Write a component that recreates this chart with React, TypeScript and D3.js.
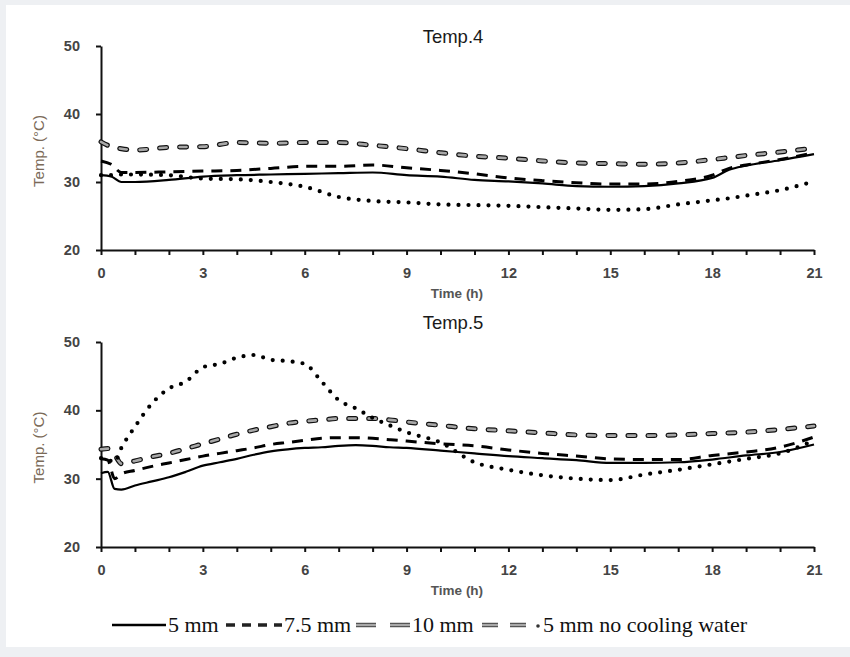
import React, { useEffect, useRef } from 'react';
import * as d3 from 'd3';

// time axis samples (h)
const hours4 = [0, 0.3, 0.6, 1, 2, 3, 4, 5, 6, 7, 8, 9, 10, 11, 12, 13, 14, 15, 16, 17, 18, 18.5, 19, 20, 21];
const hours5 = [0, 0.2, 0.4, 0.6, 1, 1.5, 2, 2.5, 3, 3.5, 4, 4.5, 5, 5.5, 6, 6.5, 7, 7.5, 8, 8.5, 9, 10, 11, 12, 13, 14, 15, 16, 17, 18, 19, 20, 21];

// Temp.4
const t4mm5 = [31.0, 30.8, 30.0, 30.0, 30.3, 30.8, 31.0, 31.1, 31.2, 31.3, 31.4, 31.0, 30.8, 30.3, 30.1, 29.8, 29.4, 29.3, 29.4, 29.8, 30.6, 31.8, 32.4, 33.2, 34.1];
const t4mm75 = [33.1, 32.6, 31.4, 31.4, 31.5, 31.6, 31.7, 32.0, 32.3, 32.3, 32.5, 32.1, 31.7, 31.2, 30.6, 30.2, 29.9, 29.7, 29.7, 30.1, 31.0, 32.0, 32.5, 33.3, 34.3];
const t4mm10 = [35.9, 35.2, 34.9, 34.7, 35.1, 35.2, 35.8, 35.7, 35.8, 35.8, 35.4, 34.9, 34.3, 33.8, 33.5, 33.1, 32.8, 32.7, 32.6, 32.8, 33.3, 33.6, 33.9, 34.4, 35.0];
const t4noCool = [31.0, 31.0, 31.1, 31.1, 31.0, 30.5, 30.4, 30.0, 29.3, 27.8, 27.2, 27.0, 26.7, 26.6, 26.5, 26.3, 26.1, 25.9, 26.0, 26.7, 27.3, 27.6, 28.0, 28.8, 30.1];

// Temp.5
const t5mm5 = [30.8, 31.0, 28.5, 28.4, 29.0, 29.6, 30.2, 31.0, 31.9, 32.4, 32.9, 33.5, 34.0, 34.3, 34.5, 34.6, 34.8, 34.9, 34.8, 34.6, 34.5, 34.1, 33.7, 33.3, 33.0, 32.7, 32.3, 32.3, 32.4, 32.8, 33.4, 33.9, 35.0];
const t5mm75 = [32.9, 32.7, 30.0, 30.7, 31.2, 31.8, 32.3, 32.8, 33.3, 33.7, 34.1, 34.5, 35.0, 35.3, 35.6, 35.9, 36.0, 36.0, 35.9, 35.7, 35.5, 35.1, 34.8, 34.2, 33.7, 33.3, 32.9, 32.8, 32.8, 33.4, 33.9, 34.6, 36.1];
const t5mm10 = [34.3, 34.4, 33.5, 32.2, 32.6, 33.2, 33.7, 34.4, 35.1, 35.8, 36.5, 37.1, 37.6, 38.1, 38.4, 38.6, 38.8, 38.8, 38.8, 38.6, 38.3, 37.8, 37.3, 37.0, 36.7, 36.4, 36.3, 36.3, 36.4, 36.6, 36.8, 37.2, 37.7];
const t5noCool = [33.0, 32.8, 32.4, 34.5, 37.6, 41.0, 43.2, 44.2, 46.3, 46.8, 47.7, 48.1, 47.4, 47.2, 46.8, 44.2, 41.5, 40.3, 38.9, 37.8, 36.8, 35.3, 32.4, 31.3, 30.5, 30.0, 29.8, 30.6, 31.3, 32.1, 32.9, 33.7, 35.6];

const seriesNames = ['5 mm', '7.5 mm', '10 mm', '5 mm no cooling water'];
const yTicks = [20, 30, 40, 50];
const xLabelTicks = [0, 3, 6, 9, 12, 15, 18, 21];
const xMinorTicks = [0, 1, 2, 3, 4, 5, 6, 7, 8, 9, 10, 11, 12, 13, 14, 15, 16, 17, 18, 19, 20, 21];

const W = 850;
const H = 657;
const sans = '"Liberation Sans", Arial, sans-serif';
const serif = '"Liberation Serif", "Times New Roman", serif';

const panels = [
  { title: 'Temp.4', titleY: 43, top: 46, bottom: 250, hours: hours4, series: [t4mm5, t4mm75, t4mm10, t4noCool] },
  { title: 'Temp.5', titleY: 329, top: 342, bottom: 547, hours: hours5, series: [t5mm5, t5mm75, t5mm10, t5noCool] },
];

type Sel = d3.Selection<SVGGElement, unknown, null, undefined>;

// draw a path in the style of series i
const drawStyled = (g: Sel, d: string, i: number) => {
  if (i === 0) {
    g.append('path').attr('d', d).attr('fill', 'none').attr('stroke', '#000').attr('stroke-width', 2.2);
  } else if (i === 1) {
    g.append('path').attr('d', d).attr('fill', 'none').attr('stroke', '#000')
      .attr('stroke-width', 3).attr('stroke-dasharray', '11,8');
  } else if (i === 2) {
    g.append('path').attr('d', d).attr('fill', 'none').attr('stroke', '#111')
      .attr('stroke-width', 5).attr('stroke-linecap', 'round').attr('stroke-dasharray', '7,13');
    g.append('path').attr('d', d).attr('fill', 'none').attr('stroke', '#a8a8a8')
      .attr('stroke-width', 2.6).attr('stroke-linecap', 'round').attr('stroke-dasharray', '7,13');
  } else {
    g.append('path').attr('d', d).attr('fill', 'none').attr('stroke', '#000')
      .attr('stroke-width', 4.2).attr('stroke-linecap', 'round').attr('stroke-dasharray', '0,10');
  }
};

const App: React.FC = () => {
  const svgRef = useRef<SVGSVGElement>(null);

  useEffect(() => {
    if (!svgRef.current) return;
    const svg = d3.select(svgRef.current);
    svg.selectAll('*').remove();

    // page frame
    svg.append('rect').attr('width', W).attr('height', H).attr('fill', '#eef0f3');
    svg.append('rect').attr('x', 6).attr('y', 5).attr('width', W - 6).attr('height', 642).attr('fill', '#fff');

    panels.forEach(p => {
      const x = d3.scaleLinear().domain([0, 21]).range([101, 814]);
      const y = d3.scaleLinear().domain([20, 50]).range([p.bottom, p.top]);
      const g = svg.append('g');

      // y axis
      const ya = g.append('g')
        .attr('transform', `translate(${x(0)},0)`)
        .call(d3.axisLeft(y).tickValues(yTicks).tickSize(5).tickSizeOuter(0).tickPadding(16));
      // x axis
      const xa = g.append('g')
        .attr('transform', `translate(0,${p.bottom})`)
        .call(d3.axisBottom(x).tickValues(xMinorTicks).tickSize(5).tickSizeOuter(0).tickPadding(13)
          .tickFormat(v => (xLabelTicks.includes(+v) ? String(v) : '')));

      [ya, xa].forEach(a => {
        a.select('.domain').attr('stroke', '#111').attr('stroke-width', 2);
        a.selectAll('.tick line').attr('stroke', '#111').attr('stroke-width', 2);
        a.selectAll('.tick text')
          .attr('fill', '#444')
          .style('font-family', sans)
          .style('font-size', '14.5px')
          .style('font-weight', 'bold');
      });

      // titles and axis labels
      g.append('text').attr('x', 453).attr('y', p.titleY).attr('text-anchor', 'middle')
        .style('font-family', sans).style('font-size', '18.5px').attr('fill', '#1a1a1a')
        .text(p.title);
      g.append('text').attr('x', 457).attr('y', p.bottom + 48).attr('text-anchor', 'middle')
        .style('font-family', sans).style('font-size', '13.5px').style('font-weight', 'bold')
        .attr('fill', '#555').text('Time (h)');
      g.append('text')
        .attr('transform', `translate(44,${(p.top + p.bottom) / 2 + 3}) rotate(-90)`)
        .attr('text-anchor', 'middle')
        .style('font-family', sans).style('font-size', '15px')
        .attr('fill', '#7b6a58').text('Temp. (°C)');

      const line = d3.line<number>()
        .x((_, i) => x(p.hours[i]))
        .y(v => y(v))
        .curve(d3.curveMonotoneX);

      [2, 1, 0, 3].forEach(i => {
        drawStyled(g, line(p.series[i]) || '', i);
      });
    });

    // legend
    const lg = svg.append('g');
    const ly = 625;
    const items = [
      { x0: 112, x1: 166, tx: 168 },
      { x0: 226, x1: 282, tx: 284 },
      { x0: 356, x1: 410, tx: 412 },
      { x0: 482, x1: 532, tx: 543 },
    ];
    items.forEach((it, i) => {
      const seg = `M${it.x0},${ly}L${it.x1},${ly}`;
      if (i === 0) {
        lg.append('path').attr('d', seg).attr('stroke', '#000').attr('stroke-width', 2.5);
      } else if (i === 1) {
        lg.append('path').attr('d', seg).attr('stroke', '#222').attr('stroke-width', 3.5)
          .attr('stroke-dasharray', '9,7');
      } else {
        lg.append('path').attr('d', seg).attr('stroke', '#555').attr('stroke-width', 4.5)
          .attr('stroke-dasharray', i === 2 ? '20,14' : '16,12');
        lg.append('path').attr('d', seg).attr('stroke', '#a8a8a8').attr('stroke-width', 2)
          .attr('stroke-dasharray', i === 2 ? '20,14' : '16,12');
        if (i === 3) {
          lg.append('circle').attr('cx', 538).attr('cy', ly + 1).attr('r', 1.8).attr('fill', '#333');
        }
      }
      lg.append('text').attr('x', it.tx).attr('y', ly + 7)
        .style('font-family', serif).style('font-size', '22px').attr('fill', '#111')
        .text(seriesNames[i]);
    });
  }, []);

  return (
    <svg ref={svgRef} width={W} height={H} style={{ position: 'absolute', left: 0, top: 0 }} />
  );
};

export default App;
